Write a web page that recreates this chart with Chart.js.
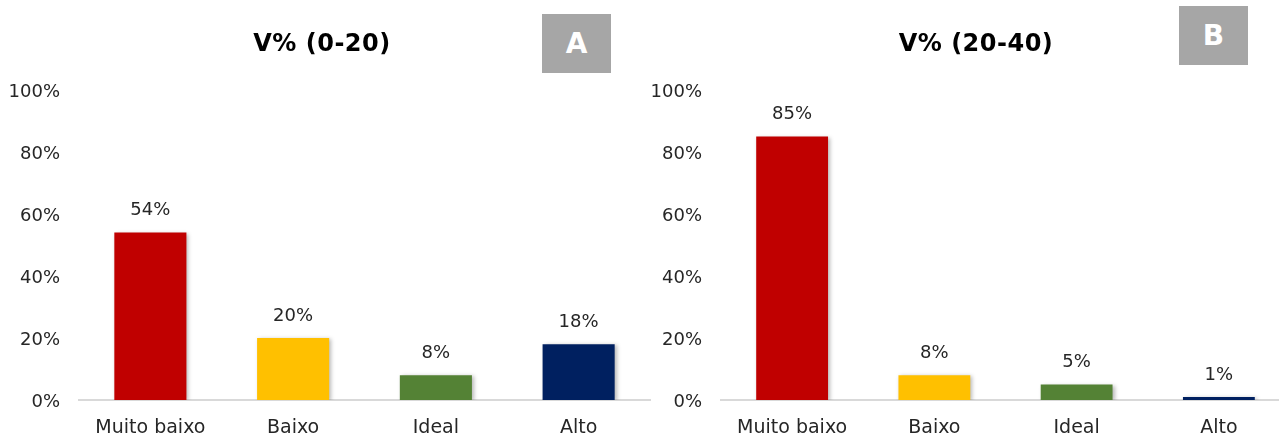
<!DOCTYPE html>
<html>
<head>
<meta charset="utf-8">
<script src="https://cdn.jsdelivr.net/npm/chart.js@4.4.1/dist/chart.umd.min.js"></script>
<style>
  html, body { margin: 0; padding: 0; background: #fff; }
  body { width: 1279px; height: 437px; position: relative; overflow: hidden; font-family: "DejaVu Sans", sans-serif; }
  .panel { position: absolute; top: 0; width: 660px; height: 437px; }
  .panel canvas { position: absolute; left: 0; top: 0; }
  .title { position: absolute; font: bold 24px "DejaVu Sans", sans-serif; letter-spacing: 0.5px; color: #000; white-space: nowrap; transform: translateX(-50%); top: 29px; }
  .badge { position: absolute; width: 69px; height: 59px; background: #a6a6a6; color: #fff;
           font: bold 28px "DejaVu Sans", sans-serif; display: flex; align-items: center; justify-content: center; }
</style>
</head>
<body>
<div class="panel" id="panelA" style="left:0px">
  <canvas id="chartA" width="660" height="437"></canvas>
  <div class="title" style="left:322px">V% (0-20)</div>
  <div class="badge" style="left:542px; top:14px">A</div>
</div>
<div class="panel" id="panelB" style="left:640px">
  <canvas id="chartB" width="660" height="437"></canvas>
  <div class="title" style="left:336px">V% (20-40)</div>
  <div class="badge" style="left:539px; top:6px">B</div>
</div>
<script>
// Classes of base saturation (V%)
const categories = ['Muito baixo', 'Baixo', 'Ideal', 'Alto'];
// Share of samples in each class, per soil layer (%)
const valuesLayer0to20 = [54, 20, 8, 18];
const valuesLayer20to40 = [85, 8, 5, 1];
const barColors = ['#c00000', '#ffc000', '#548235', '#002060'];
const yTicks = [0, 20, 40, 60, 80, 100];

const FONT = '"DejaVu Sans", sans-serif';
const TEXT = '#262626';

// Writes each bar's value just above it
const valueLabels = {
  id: 'valueLabels',
  afterDatasetsDraw(chart) {
    const ctx = chart.ctx;
    const meta = chart.getDatasetMeta(0);
    const data = chart.data.datasets[0].data;
    ctx.save();
    ctx.font = '18px ' + FONT;
    ctx.fillStyle = TEXT;
    ctx.textAlign = 'center';
    ctx.textBaseline = 'middle';
    meta.data.forEach((bar, i) => {
      ctx.fillText(data[i] + '%', bar.x, bar.y - 22);
    });
    ctx.restore();
  }
};

// Soft drop shadow under the bars
const barShadow = {
  id: 'barShadow',
  beforeDatasetsDraw(chart) {
    const ctx = chart.ctx;
    ctx.save();
    ctx.shadowColor = 'rgba(0,0,0,0.28)';
    ctx.shadowBlur = 4;
    ctx.shadowOffsetX = 2;
    ctx.shadowOffsetY = 1;
  },
  afterDatasetsDraw(chart) {
    chart.ctx.restore();
  }
};

function makeChart(id, values, leftWidth) {
  return new Chart(document.getElementById(id), {
    type: 'bar',
    data: {
      labels: categories,
      datasets: [{
        data: values,
        backgroundColor: barColors,
        borderWidth: 0,
        categoryPercentage: 1.0,
        barPercentage: 0.505
      }]
    },
    options: {
      responsive: false,
      animation: false,
      layout: { padding: { top: 90, right: 10, bottom: 0, left: 0 } },
      plugins: { legend: { display: false }, tooltip: { enabled: false } },
      scales: {
        x: {
          grid: { display: false, drawTicks: false },
          border: { display: true, color: '#d9d9d9', width: 2 },
          ticks: { color: TEXT, font: { family: FONT, size: 19 }, padding: 17, maxRotation: 0 },
          afterFit(scale) { scale.height = 37; }
        },
        y: {
          min: 0, max: 100,
          grid: { display: false, drawTicks: false },
          border: { display: false },
          afterBuildTicks(scale) { scale.ticks = yTicks.map(v => ({ value: v })); },
          ticks: {
            color: TEXT, font: { family: FONT, size: 18 }, padding: 19, labelOffset: 2,
            callback: v => v + '%'
          },
          afterFit(scale) { scale.width = leftWidth; }
        }
      }
    },
    plugins: [barShadow, valueLabels]
  });
}

makeChart('chartA', valuesLayer0to20, 79);
makeChart('chartB', valuesLayer20to40, 81);
</script>
</body>
</html>
